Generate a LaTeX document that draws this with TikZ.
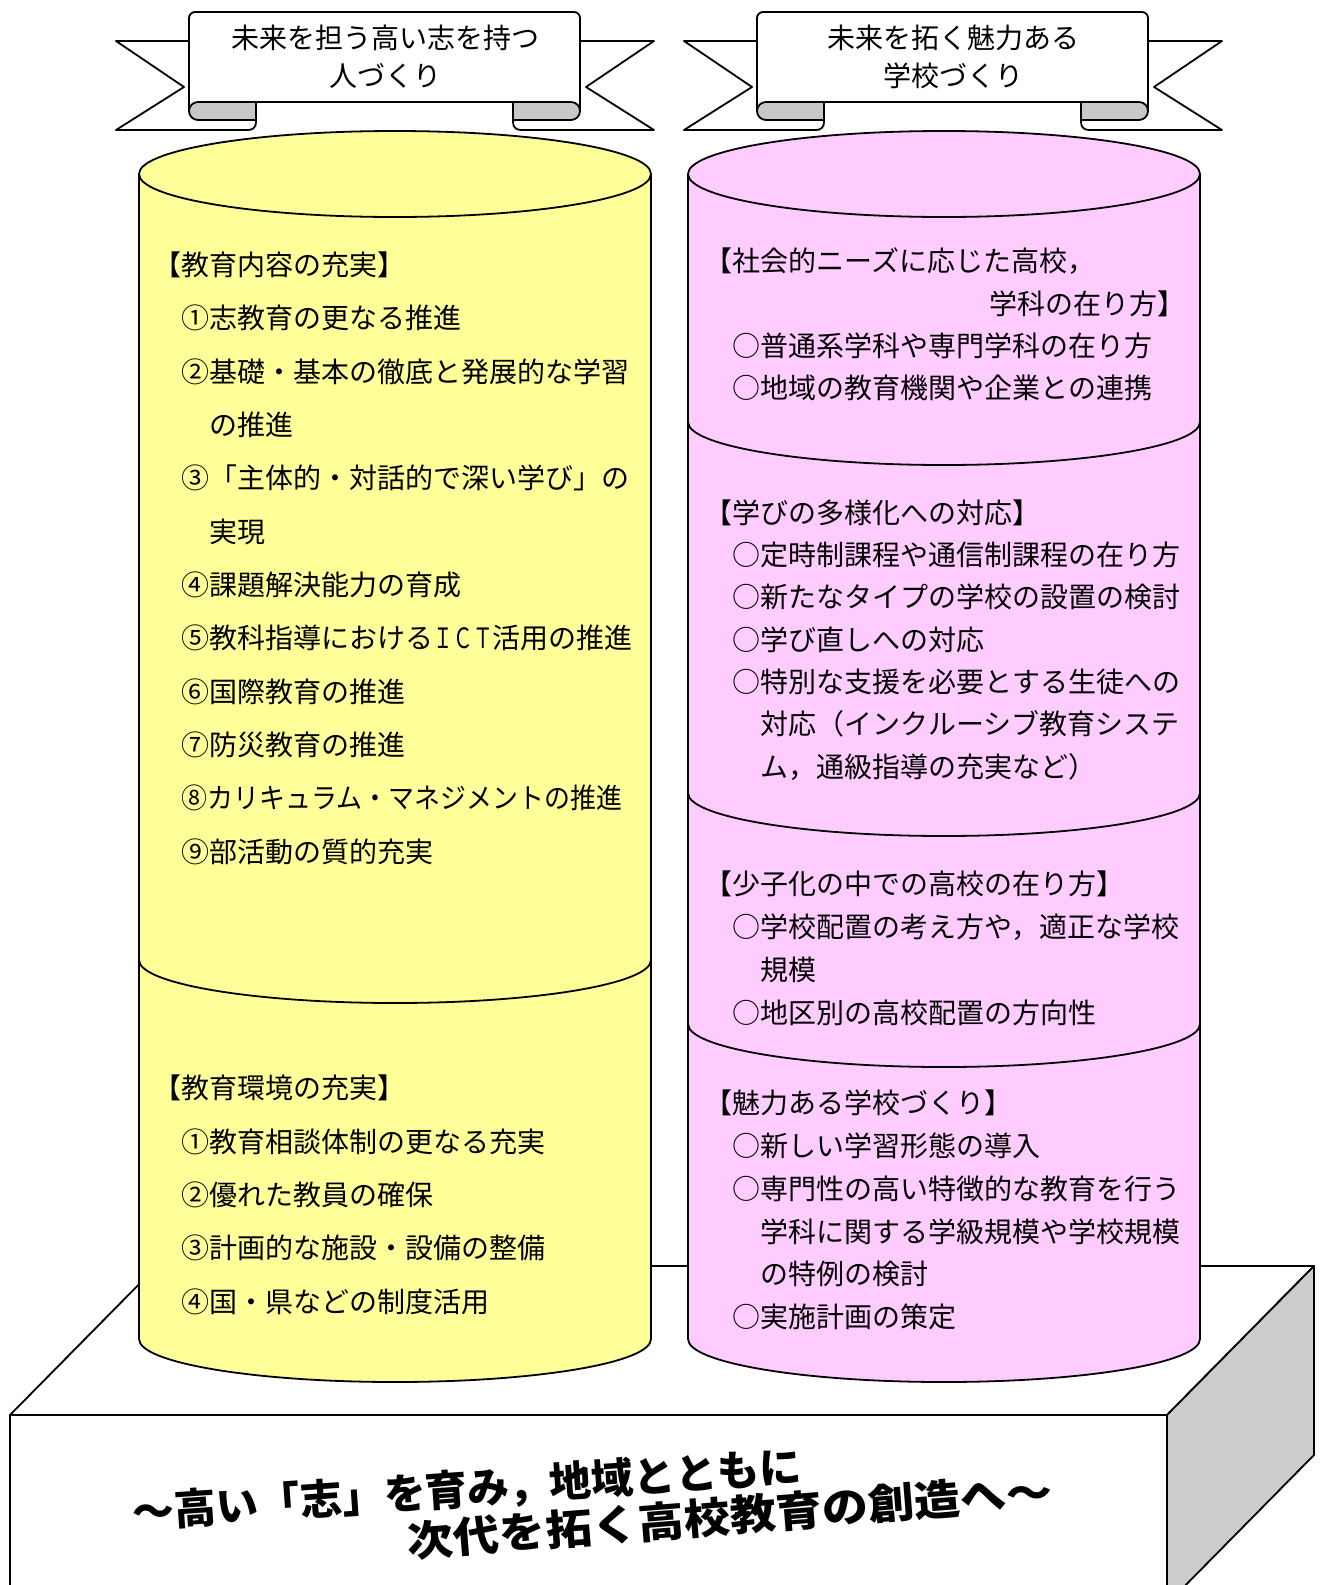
\documentclass[tikz,border=0pt]{standalone}
\usepackage{fontspec}
\usepackage{graphicx}
\setmainfont{Noto Sans CJK JP}
\definecolor{cylY}{HTML}{FFFF99}
\definecolor{cylP}{HTML}{FFCCFF}
\definecolor{curl}{HTML}{C8C8C8}
\definecolor{sidegray}{HTML}{CCCCCC}
\begin{document}
\begin{tikzpicture}[x=0.5pt,y=-0.5pt, line width=0.9pt, line join=round,
  txt/.style={anchor=west, inner sep=0pt, font=\fontsize{14pt}{14pt}\selectfont, text height=12.3pt, text depth=1.7pt},
  bantxt/.style={inner sep=0pt, font=\fontsize{14pt}{14pt}\selectfont, text height=12.3pt, text depth=1.7pt},
  mottotxt/.style={inner sep=0pt, font=\bfseries\fontsize{21pt}{21pt}\selectfont},
  cylarc/.style 2 args={insert path={.. controls ({#1-256},{#2+23.75}) and ({#1-141.4},{#2+43}) .. ({#1},{#2+43}) .. controls ({#1+141.4},{#2+43}) and ({#1+256},{#2+23.75}) .. ({#1+256},{#2})}}
]
\useasboundingbox (0,0) rectangle (1323,1585);
\clip (0,0) rectangle (1323,1585);

% platform
\draw[fill=white] (10,1415) -- (157,1266) -- (1314,1266) -- (1167,1415) -- cycle;
\draw[fill=sidegray] (1167,1415) -- (1314,1266) -- (1314,1455) -- (1167,1604) -- cycle;
\draw[fill=white] (10,1415) rectangle (1167,1640);

% left cylinder
\path[fill=cylY] (139,174) -- (139,1339) [cylarc={395}{1339}] -- (651,174) -- cycle;
\draw (139,174) -- (139,1339) [cylarc={395}{1339}] -- (651,174);
\draw (139,960) [cylarc={395}{960}];
\draw[fill=cylY] (395,174) ellipse [x radius=256, y radius=43];

% right cylinder
\path[fill=cylP] (688,174) -- (688,1339) [cylarc={944}{1339}] -- (1200,174) -- cycle;
\draw (688,174) -- (688,1339) [cylarc={944}{1339}] -- (1200,174);
\foreach \yy in {422,793,1024} \draw (688,\yy) [cylarc={944}{\yy}];
\draw[fill=cylP] (944,174) ellipse [x radius=256, y radius=43];

% banners
\foreach \dx in {0,568}{
\begin{scope}[shift={(\dx,0)}]
 \draw[fill=white] (189,41) -- (116,41) -- (184,87) -- (116,130) -- (248,130) .. controls (253,130) and (256,127) .. (256,122) -- (256,102);
 \draw[fill=white] (580,41) -- (654,41) -- (586,87) -- (654,130) -- (521,130) .. controls (516,130) and (513,127) .. (513,122) -- (513,102);
 \draw[fill=white, rounded corners=3pt] (189,111) -- (189,12) -- (580,12) -- (580,111);
 \draw (256,102) -- (513,102);
 \draw[fill=curl] (256,102) -- (198,102) .. controls (193,102) and (189,106) .. (189,111) .. controls (189,116) and (193,120) .. (198,120) -- (256,120) -- cycle;
 \draw[fill=curl] (513,102) -- (571,102) .. controls (576,102) and (580,106) .. (580,111) .. controls (580,116) and (576,120) .. (571,120) -- (513,120) -- cycle;
\end{scope}
}
\node[bantxt] (b1) at (385,38) {未来を担う高い志を持つ};
\node[bantxt] (b2) at (385,76) {人づくり};
\node[bantxt] (b3) at (953,38) {未来を拓く魅力ある};
\node[bantxt] (b4) at (953,76) {学校づくり};

% left texts
\node[txt] (a0) at (153,265) {【教育内容の充実】};
\node[txt] (a1) at (181,318) {①志教育の更なる推進};
\node[txt] (a2) at (181,372) {②基礎・基本の徹底と発展的な学習};
\node[txt] (a2b) at (209,425) {の推進};
\node[txt] (a3) at (181,478) {③「主体的・対話的で深い学び」の};
\node[txt] (a3b) at (209,532) {実現};
\node[txt] (a4) at (181,585) {④課題解決能力の育成};
\node[txt] (a5) at (181,638) {⑤教科指導における\scalebox{0.7}[1]{ＩＣＴ}活用の推進};
\node[txt] (a6) at (181,692) {⑥国際教育の推進};
\node[txt] (a7) at (181,745) {⑦防災教育の推進};
\node[txt] (a8) at (181,798) {\scalebox{0.927}[1]{⑧カリキュラム・マネジメントの推進}};
\node[txt] (a9) at (181,852) {⑨部活動の質的充実};

\node[txt] (c0) at (153,1088) {【教育環境の充実】};
\node[txt] (c1) at (181,1142) {①教育相談体制の更なる充実};
\node[txt] (c2) at (181,1195) {②優れた教員の確保};
\node[txt] (c3) at (181,1248) {③計画的な施設・設備の整備};
\node[txt] (c4) at (181,1302) {④国・県などの制度活用};

% right texts
\node[txt] (r10) at (704,261) {【社会的ニーズに応じた高校，};
\node[txt] (r10b) at (989,304) {学科の在り方】};
\node[txt] (r11) at (732,346) {○普通系学科や専門学科の在り方};
\node[txt] (r12) at (732,388) {○地域の教育機関や企業との連携};

\node[txt] (r20) at (704,513) {【学びの多様化への対応】};
\node[txt] (r21) at (732,555) {○定時制課程や通信制課程の在り方};
\node[txt] (r22) at (732,597) {○新たなタイプの学校の設置の検討};
\node[txt] (r23) at (732,640) {○学び直しへの対応};
\node[txt] (r24) at (732,682) {○特別な支援を必要とする生徒への};
\node[txt] (r24b) at (760,724) {対応（インクルーシブ教育システ};
\node[txt] (r24c) at (760,767) {ム，通級指導の充実など）};

\node[txt] (r30) at (704,884) {【少子化の中での高校の在り方】};
\node[txt] (r31) at (732,927) {○学校配置の考え方や，適正な学校};
\node[txt] (r31b) at (760,970) {規模};
\node[txt] (r32) at (732,1013) {○地区別の高校配置の方向性};

\node[txt] (r40) at (704,1103) {【魅力ある学校づくり】};
\node[txt] (r41) at (732,1146) {○新しい学習形態の導入};
\node[txt] (r42) at (732,1189) {○専門性の高い特徴的な教育を行う};
\node[txt] (r42b) at (760,1232) {学科に関する学級規模や学校規模};
\node[txt] (r42c) at (760,1274) {の特例の検討};
\node[txt] (r43) at (732,1317) {○実施計画の策定};

% motto
\node[mottotxt, rotate=4] (m1) at (467,1490) {～高い「志」を育み，地域とともに};
\node[mottotxt, rotate=4.5] (m2) at (730,1516) {\scalebox{1.1}[1]{次代を拓く高校教育の創造へ～}};
\end{tikzpicture}
\end{document}
